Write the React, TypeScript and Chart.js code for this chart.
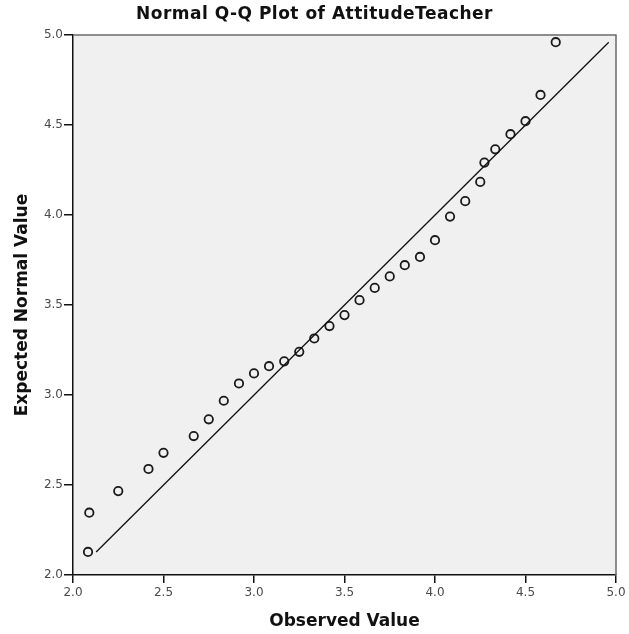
import React, { useEffect, useRef } from "react";
import { Chart, registerables } from "chart.js";

Chart.register(...registerables);

const observedValues = [
  2.083, 2.09, 2.25, 2.417, 2.5, 2.667, 2.75, 2.833, 2.917, 3.0, 3.083, 3.167,
  3.25, 3.333, 3.417, 3.5, 3.583, 3.667, 3.75, 3.833, 3.917, 4.0, 4.083, 4.167,
  4.25, 4.273, 4.333, 4.417, 4.5, 4.583, 4.667,
];
const expectedValues = [
  2.128, 2.346, 2.466, 2.589, 2.679, 2.772, 2.865, 2.968, 3.064, 3.12, 3.16,
  3.187, 3.24, 3.314, 3.383, 3.444, 3.527, 3.595, 3.659, 3.721, 3.767, 3.86,
  3.991, 4.077, 4.184, 4.291, 4.365, 4.449, 4.521, 4.667, 4.96,
];
const refLine = [2.128, 4.96];
const tickValues = [2.0, 2.5, 3.0, 3.5, 4.0, 4.5, 5.0];

const TITLE = "Normal Q-Q Plot of AttitudeTeacher";
const X_TITLE = "Observed Value";
const Y_TITLE = "Expected Normal Value";

export default function App() {
  const ref = useRef<HTMLCanvasElement | null>(null);
  useEffect(() => {
    document.body.style.margin = "0";
    const canvas = ref.current!;
    const bgPlugin = {
      id: "bgFrame",
      beforeDraw(chart: any) {
        const { ctx, chartArea: a } = chart;
        ctx.save();
        ctx.fillStyle = "#ffffff";
        ctx.fillRect(0, 0, chart.width, chart.height);
        ctx.fillStyle = "#f0f0f0";
        ctx.fillRect(a.left, a.top, a.right - a.left, a.bottom - a.top);
        ctx.restore();
      },
      afterDraw(chart: any) {
        const { ctx, chartArea: a } = chart;
        ctx.save();
        ctx.strokeStyle = "#6a6a6a";
        ctx.lineWidth = 1.5;
        ctx.beginPath();
        ctx.moveTo(a.left, a.top);
        ctx.lineTo(a.right, a.top);
        ctx.lineTo(a.right, a.bottom);
        ctx.stroke();
        ctx.fillStyle = "#111";
        ctx.font = "bold 17px 'DejaVu Sans'";
        try {
          (ctx as any).letterSpacing = "0.5px";
        } catch (e) {}
        ctx.textAlign = "center";
        ctx.textBaseline = "middle";
        ctx.fillText(TITLE, chart.width / 2, 15);
        ctx.restore();
      },
    };
    const chart = new Chart(canvas, {
      type: "scatter",
      data: {
        datasets: [
          {
            type: "line",
            data: refLine.map((v) => ({ x: v, y: v })),
            borderColor: "#111",
            borderWidth: 1.3,
            pointRadius: 0,
            fill: false,
          } as any,
          {
            data: observedValues.map((x, i) => ({ x, y: expectedValues[i] })),
            pointStyle: "circle",
            pointRadius: 4.2,
            pointBorderWidth: 1.8,
            pointBorderColor: "#1a1a1a",
            pointBackgroundColor: "rgba(0,0,0,0)",
            borderColor: "#1a1a1a",
            backgroundColor: "rgba(0,0,0,0)",
          },
        ],
      },
      options: {
        responsive: false,
        animation: false,
        layout: { padding: { top: 35, right: 13, left: 0, bottom: 0 } },
        plugins: { legend: { display: false }, tooltip: { enabled: false } },
        scales: {
          x: {
            type: "linear",
            min: 2,
            max: 5,
            afterFit: (s: any) => {
              s.height = 59;
            },
            afterBuildTicks: (s: any) => {
              s.ticks = tickValues.map((v) => ({ value: v }));
            },
            ticks: {
              callback: (v: any) => Number(v).toFixed(1),
              color: "#4a4a4a",
              font: { family: "'DejaVu Sans'", size: 12 },
              padding: 3,
              maxRotation: 0,
            },
            grid: {
              drawOnChartArea: false,
              drawTicks: true,
              tickLength: 8,
              color: "#111",
              lineWidth: 1.5,
            },
            border: { display: true, color: "#111", width: 1.5 },
            title: {
              display: true,
              text: X_TITLE,
              color: "#111",
              font: { family: "'DejaVu Sans'", size: 17, weight: "bold" },
              padding: { top: 0, bottom: 2 },
            },
          },
          y: {
            type: "linear",
            min: 2,
            max: 5,
            afterFit: (s: any) => {
              s.width = 73;
            },
            afterBuildTicks: (s: any) => {
              s.ticks = tickValues.map((v) => ({ value: v }));
            },
            ticks: {
              callback: (v: any) => Number(v).toFixed(1),
              color: "#4a4a4a",
              font: { family: "'DejaVu Sans'", size: 12 },
              padding: 1,
            },
            grid: {
              drawOnChartArea: false,
              drawTicks: true,
              tickLength: 9,
              color: "#111",
              lineWidth: 1.5,
            },
            border: { display: true, color: "#111", width: 1.5 },
            title: {
              display: true,
              text: Y_TITLE,
              color: "#111",
              font: { family: "'DejaVu Sans'", size: 17, weight: "bold" },
              padding: { top: 12, bottom: 0 },
            },
          },
        },
      },
      plugins: [bgPlugin],
    });
    return () => chart.destroy();
  }, []);
  return <canvas ref={ref} width={629} height={634} style={{ display: "block" }} />;
}
